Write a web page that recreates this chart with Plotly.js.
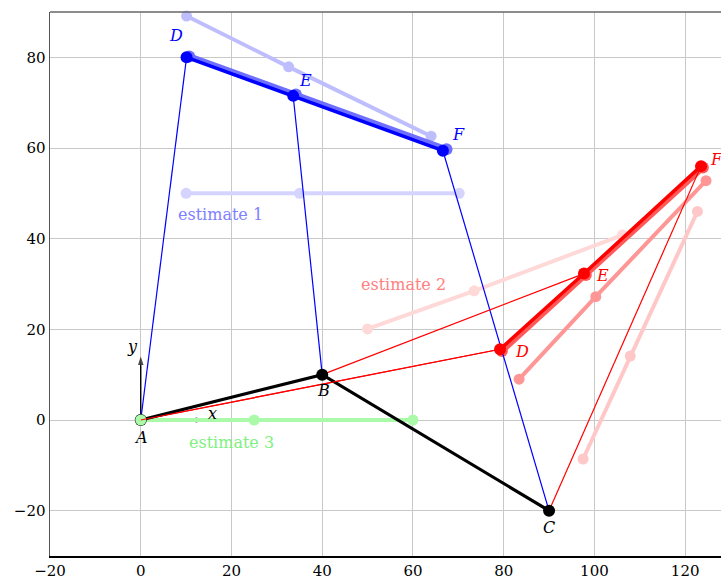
<!DOCTYPE html>
<html><head><meta charset="utf-8">
<script src="https://cdn.plot.ly/plotly-3.0.1.min.js"></script>
<style>body{margin:0;padding:0;background:#fff}</style>
</head><body><div id="chart" style="width:721px;height:578px"></div>
<script>
// Fixed linkage points A, B, C
const linkX = [0, 40, 90];
const linkY = [0, 10, -20];
const linkLabels = ['A', 'B', 'C'];
// Blue solution D, E, F
const blueX = [10.1, 33.6, 66.6];
const blueY = [80.0, 71.5, 59.4];
const blueShadowX = [10.7, 34.2, 67.4];
const blueShadowY = [80.2, 71.8, 59.7];
const blueLightX = [10.1, 32.6, 64.0];
const blueLightY = [89.1, 77.9, 62.6];
const est1X = [10, 35, 70.2];
const est1Y = [50, 50, 50];
// Red solution D, E, F
const redX = [79.2, 97.7, 123.5];
const redY = [15.6, 32.3, 56.0];
const redShadowX = [79.6, 98.1, 123.9];
const redShadowY = [15.2, 32.0, 55.7];
const redMidX = [83.4, 100.3, 124.6];
const redMidY = [9.0, 27.2, 52.8];
const redLightX = [97.5, 107.9, 122.7];
const redLightY = [-8.6, 14.1, 46.0];
const est2X = [50.0, 73.5, 106.2];
const est2Y = [20.1, 28.5, 40.8];
// Estimate 3
const est3X = [0, 25, 60];
const est3Y = [0, 0, 0];
const pointLabels = ['D', 'E', 'F'];
const estimateNames = ['estimate 1', 'estimate 2', 'estimate 3'];
// local frame arrows at A
const frameLen = 15;

const serif = 'DejaVu Serif, Liberation Serif, serif';

function links(px, py) {
  const x = [], y = [];
  for (let i = 0; i < 3; i++) { x.push(linkX[i], px[i], null); y.push(linkY[i], py[i], null); }
  return {x, y};
}
function series(x, y, color, w, ms) {
  return {x, y, type: 'scatter', mode: 'lines+markers', line: {color, width: w},
    marker: {color, size: ms}, hoverinfo: 'none', showlegend: false, cliponaxis: false};
}
function arrowTrace(x, y) {
  return {x, y, type: 'scatter', mode: 'lines+markers', line: {color: '#000', width: 1.4},
    marker: {symbol: ['circle', 'arrow'], size: [0, 9], color: '#000', angleref: 'previous', line: {width: 0}},
    hoverinfo: 'none', showlegend: false};
}
const bl = links(blueX, blueY), rl = links(redX, redY);
const traces = [
  arrowTrace([linkX[0], linkX[0] + frameLen - 1], [linkY[0], linkY[0]]),
  arrowTrace([linkX[0], linkX[0]], [linkY[0], linkY[0] + frameLen - 1]),
  series(est1X, est1Y, 'rgb(212,212,255)', 4, 11),
  series(est2X, est2Y, 'rgb(255,216,216)', 4, 11),
  series(est3X, est3Y, 'rgb(170,250,170)', 4, 11),
  series(blueLightX, blueLightY, 'rgb(190,190,255)', 4, 11),
  series(redLightX, redLightY, 'rgb(255,200,200)', 4, 11),
  series(redMidX, redMidY, 'rgb(255,150,150)', 4, 11),
  series(blueShadowX, blueShadowY, 'rgb(110,110,255)', 6, 12),
  series(redShadowX, redShadowY, 'rgb(255,90,90)', 6, 12),
  {x: bl.x, y: bl.y, type: 'scatter', mode: 'lines', line: {color: 'rgb(0,0,255)', width: 1.2}, hoverinfo: 'none', showlegend: false},
  {x: rl.x, y: rl.y, type: 'scatter', mode: 'lines', line: {color: 'rgb(255,0,0)', width: 1.2}, hoverinfo: 'none', showlegend: false},
  {x: linkX, y: linkY, type: 'scatter', mode: 'lines+markers', line: {color: '#000', width: 3.2},
    marker: {color: '#000', size: 12}, hoverinfo: 'none', showlegend: false},
  {x: blueX, y: blueY, type: 'scatter', mode: 'lines+markers', line: {color: 'rgb(0,0,255)', width: 3.5},
    marker: {color: 'rgb(0,0,255)', size: 12}, hoverinfo: 'none', showlegend: false},
  {x: redX, y: redY, type: 'scatter', mode: 'lines+markers', line: {color: 'rgb(255,0,0)', width: 3.5},
    marker: {color: 'rgb(255,0,0)', size: 12}, hoverinfo: 'none', showlegend: false, cliponaxis: false},
  {x: [est3X[0]], y: [est3Y[0]], type: 'scatter', mode: 'markers', marker: {color: 'rgb(170,250,170)', size: 11}, hoverinfo: 'none', showlegend: false}
];
// red thin line drawn over A marker
traces.push({x: [linkX[0], redX[0]], y: [linkY[0], redY[0]], type: 'scatter', mode: 'lines', line: {color: 'rgb(255,0,0)', width: 1.2}, hoverinfo: 'none', showlegend: false});

const lab = (x, y, t, color, xs, ys) => ({x, y, xref: 'x', yref: 'y', text: '<i>' + t + '</i>', showarrow: false,
  xanchor: 'center', yanchor: 'middle', xshift: xs, yshift: ys, font: {family: serif, size: 16, color}});
const annotations = [];
const blueShift = [[-11, 22], [12, 15], [16, 16]];
const redShift = [[22, -2], [19, -2], [15, 7]];
const linkShift = [[0, -17], [1, -16], [0, -17]];
for (let i = 0; i < 3; i++) {
  annotations.push(lab(blueX[i], blueY[i], pointLabels[i], 'rgb(0,0,255)', blueShift[i][0], blueShift[i][1]));
  annotations.push(lab(redX[i], redY[i], pointLabels[i], 'rgb(255,0,0)', redShift[i][0], redShift[i][1]));
  annotations.push(lab(linkX[i], linkY[i], linkLabels[i], '#000', linkShift[i][0], linkShift[i][1]));
}
annotations.push(lab(frameLen, 0, 'x', '#000', 4, 7));
annotations.push(lab(0, frameLen, 'y', '#000', -8, 6));
annotations.push({x: 17.5, y: 45.3, xref: 'x', yref: 'y', text: estimateNames[0], showarrow: false, font: {family: serif, size: 16, color: 'rgb(128,128,255)'}});
annotations.push({x: 58, y: 29.8, xref: 'x', yref: 'y', text: estimateNames[1], showarrow: false, font: {family: serif, size: 16, color: 'rgb(255,128,128)'}});
annotations.push({x: 20, y: -5, xref: 'x', yref: 'y', text: estimateNames[2], showarrow: false, font: {family: serif, size: 16, color: 'rgb(128,240,128)'}});

const layout = {
  width: 721, height: 578,
  margin: {l: 50, r: 0, t: 12, b: 22},
  paper_bgcolor: '#fff', plot_bgcolor: '#fff',
  font: {family: serif, size: 15, color: '#000'},
  xaxis: {range: [-20, 127.9], tickvals: [-20, 0, 20, 40, 60, 80, 100, 120], showgrid: true, gridcolor: 'rgb(200,200,200)', gridwidth: 1,
    zeroline: false, showline: true, linecolor: '#000', linewidth: 1.5, ticks: '', tickfont: {family: serif, size: 15}},
  yaxis: {range: [-30, 90], tickvals: [-20, 0, 20, 40, 60, 80], showgrid: true, gridcolor: 'rgb(200,200,200)', gridwidth: 1,
    zeroline: false, showline: true, linecolor: '#555', linewidth: 1.5, ticks: '', tickfont: {family: serif, size: 15}},
  shapes: [{type: 'line', xref: 'paper', yref: 'paper', x0: 0, x1: 1, y0: 1, y1: 1, line: {color: '#666', width: 1.5}}],
  annotations,
  showlegend: false
};
Plotly.newPlot('chart', traces, layout, {displayModeBar: false, staticPlot: true});
</script></body></html>
